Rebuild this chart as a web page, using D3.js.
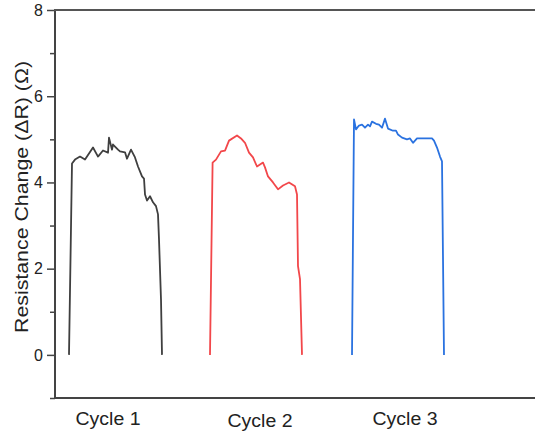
<!DOCTYPE html>
<html>
<head>
<meta charset="utf-8">
<script src="https://cdn.jsdelivr.net/npm/d3@7"></script>
<style>
body { margin: 0; background: #fff; }
text { font-family: "Liberation Sans", Arial, sans-serif; fill: #222; }
</style>
</head>
<body>
<div id="chart"></div>
<script>
// time (s) and resistance change (ohm)
var cycle1_t = [7, 8.5, 10, 12.5, 15, 19, 21.5, 24, 26.5, 27, 28.5, 29, 31.5, 32.5, 35, 36, 38, 40, 41.5, 43.5, 44.5, 45, 46, 47.5, 49, 50.5, 51.5, 52, 53, 53.5];
var cycle1_v = [0, 4.44, 4.53, 4.60, 4.53, 4.81, 4.60, 4.74, 4.69, 5.04, 4.76, 4.88, 4.76, 4.72, 4.70, 4.55, 4.76, 4.58, 4.37, 4.14, 4.09, 3.72, 3.58, 3.68, 3.54, 3.45, 3.26, 2.68, 1.29, 0];
var cycle2_t = [77.5, 78.8, 80.5, 83, 85, 87, 91, 93, 95, 97, 99, 101, 104, 105, 106.5, 109, 111.5, 114, 117, 120, 121, 121.5, 122.5, 123.5];
var cycle2_v = [0, 4.46, 4.53, 4.72, 4.74, 4.97, 5.09, 5.02, 4.92, 4.69, 4.58, 4.37, 4.46, 4.35, 4.14, 4.00, 3.84, 3.93, 4.00, 3.91, 3.72, 2.06, 1.76, 0];
var cycle3_t = [148.5, 149.5, 150.5, 152, 153.5, 155, 156.5, 157.5, 158.5, 160.5, 162, 163.5, 165, 166.5, 169, 170.5, 171.5, 173.5, 176, 177.5, 179, 181, 185, 188.5, 189.5, 191, 192.5, 193.5, 194.5];
var cycle3_v = [0, 5.46, 5.23, 5.32, 5.34, 5.27, 5.34, 5.30, 5.41, 5.36, 5.34, 5.27, 5.48, 5.25, 5.20, 5.20, 5.11, 5.04, 5.00, 5.02, 4.92, 5.02, 5.02, 5.02, 4.97, 4.81, 4.60, 4.49, 0];

var cycle_names = ["Cycle 1", "Cycle 2", "Cycle 3"];
var cycle_label_t = [26.5, 102.5, 175];
var y_ticks = [0, 2, 4, 6, 8];
var y_minor = [-1, 1, 3, 5, 7];

var colors = ["#3f3f3f", "#f2474a", "#2a72e0"];

var W = 535, H = 433;
var svg = d3.select("#chart").append("svg")
	.attr("width", W)
	.attr("height", H);

var x = d3.scaleLinear().domain([0, 240]).range([55, 535]);
var y = d3.scaleLinear().domain([-1, 8]).range([398, 10]);

/* axes */
var yAxis = d3.axisLeft(y).tickValues(y_ticks).tickSize(8).tickPadding(4);
var gy = svg.append("g").attr("transform", "translate(55,0)").call(yAxis);
gy.select(".domain").remove();
gy.selectAll(".tick line").attr("stroke", "#444").attr("stroke-width", 1.5);
gy.selectAll(".tick text").style("font-size", "16px").attr("fill", "#222");

var gm = svg.append("g").attr("transform", "translate(55,0)")
	.call(d3.axisLeft(y).tickValues(y_minor).tickSize(5).tickFormat(""));
gm.select(".domain").remove();
gm.selectAll(".tick line").attr("stroke", "#444").attr("stroke-width", 1.5);

// frame: left, top, bottom
svg.append("line").attr("x1", 55).attr("y1", y(8)).attr("x2", 55).attr("y2", y(-1))
	.attr("stroke", "#444").attr("stroke-width", 2);
svg.append("line").attr("x1", 54).attr("y1", y(8)).attr("x2", W).attr("y2", y(8))
	.attr("stroke", "#555").attr("stroke-width", 2);
svg.append("line").attr("x1", 54).attr("y1", y(-1)).attr("x2", W).attr("y2", y(-1))
	.attr("stroke", "#444").attr("stroke-width", 2);

svg.append("text")
	.attr("transform", "translate(28,197) rotate(-90)")
	.attr("text-anchor", "middle")
	.attr("textLength", 272)
	.attr("lengthAdjust", "spacingAndGlyphs")
	.style("font-size", "18px")
	.text("Resistance Change (\u0394R) (\u03A9)");

/* curves */
var line = d3.line().x(function(d){ return x(d[0]); }).y(function(d){ return y(d[1]); });
var series = [[cycle1_t, cycle1_v], [cycle2_t, cycle2_v], [cycle3_t, cycle3_v]];
for (var i = 0; i < series.length; i++){
	var pts = series[i][0].map(function(t, j){ return [t, series[i][1][j]]; });
	svg.append("path")
		.datum(pts)
		.attr("d", line)
		.attr("fill", "none")
		.attr("stroke", colors[i])
		.attr("stroke-width", 1.8)
		.attr("stroke-linejoin", "round");
}

/* cycle labels */
for (var k = 0; k < cycle_names.length; k++){
	svg.append("text")
		.attr("x", x(cycle_label_t[k]))
		.attr("y", 425 + (k == 1 ? 2 : 0))
		.attr("text-anchor", "middle")
		.attr("textLength", 65)
		.attr("lengthAdjust", "spacingAndGlyphs")
		.style("font-size", "18px")
		.text(cycle_names[k]);
}
</script>
</body>
</html>
